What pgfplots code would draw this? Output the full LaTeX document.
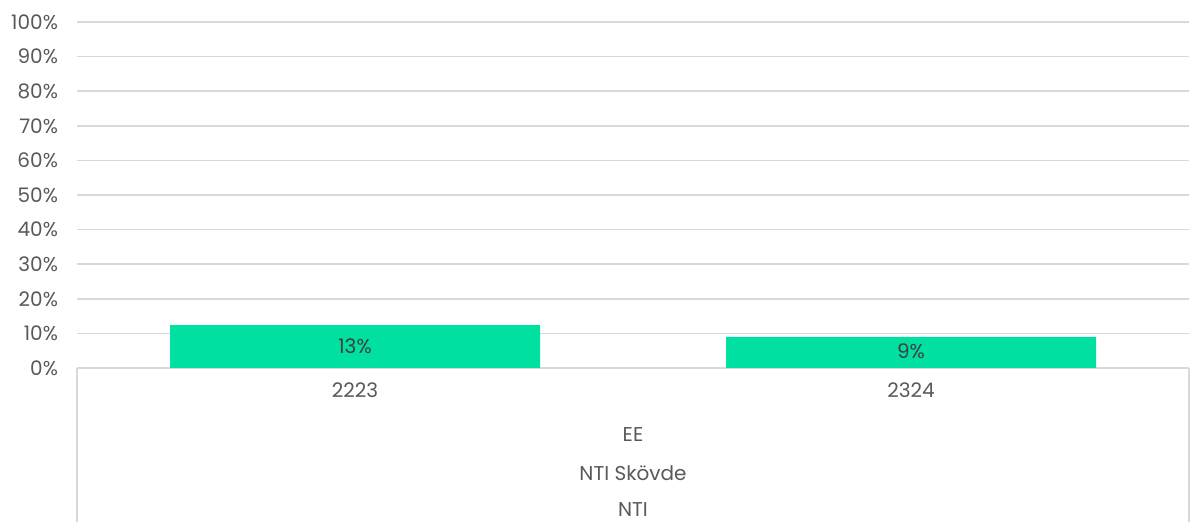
\documentclass[border=0pt]{standalone}
\usepackage{pgfplots}
\pgfplotsset{compat=1.18}
\usepackage{fontspec}
\setmainfont{Poppins}
\definecolor{bargreen}{HTML}{00E0A0}
\definecolor{gridgray}{HTML}{D9D9D9}
\definecolor{txtgray}{HTML}{595959}
\definecolor{lblgray}{HTML}{404040}
\begin{document}
\begin{tikzpicture}
\begin{axis}[
    at={(0,0)}, anchor=south west,
    scale only axis, width=556pt, height=173pt,
    xmin=-0.5, xmax=1.5, ymin=0, ymax=1,
    ytick={0,0.1,0.2,0.3,0.4,0.5,0.6,0.7,0.8,0.9,1},
    yticklabel={\pgfmathparse{\tick*100}\pgfmathprintnumber[fixed,precision=0]{\pgfmathresult}\%},
    xtick={0,1}, xticklabels={2223,2324},
    axis x line*=bottom, axis y line*=left,
    x axis line style={draw=gridgray, line width=0.75pt},
    y axis line style={draw=none},
    major tick length=0pt,
    ymajorgrids, grid style={draw=gridgray, line width=0.75pt},
    tick label style={font=\fontsize{10}{12}\selectfont, text=txtgray},
    yticklabel style={xshift=-6pt},
    xticklabel style={yshift=-4pt},
    /pgf/number format/assume math mode=true,
    clip=false,
]
\addplot[ybar, bar width=185pt, fill=bargreen, draw=none] coordinates {(0,0.124) (1,0.09)};
\node[text=lblgray, font=\fontsize{10}{12}\selectfont] at (axis cs:0,0.062) {13\%};
\node[text=lblgray, font=\fontsize{10}{12}\selectfont] at (axis cs:1,0.048) {9\%};
\end{axis}
% multi-level category frame below the axis
\draw[gridgray, line width=0.75pt] (0,0) -- (0,-77pt);
\draw[gridgray, line width=0.75pt] (556pt,0) -- (556pt,-77pt);
\node[text=txtgray, font=\fontsize{10}{12}\selectfont] at (278pt,-33.5pt) {EE};
\node[text=txtgray, font=\fontsize{10}{12}\selectfont] at (278pt,-52.5pt) {NTI Skövde};
\node[text=txtgray, font=\fontsize{10}{12}\selectfont] at (278pt,-71pt) {NTI};
\pgfresetboundingbox
\path[use as bounding box] (-38.5pt,-77pt) rectangle (558.5pt,184pt);
\end{tikzpicture}
\end{document}
